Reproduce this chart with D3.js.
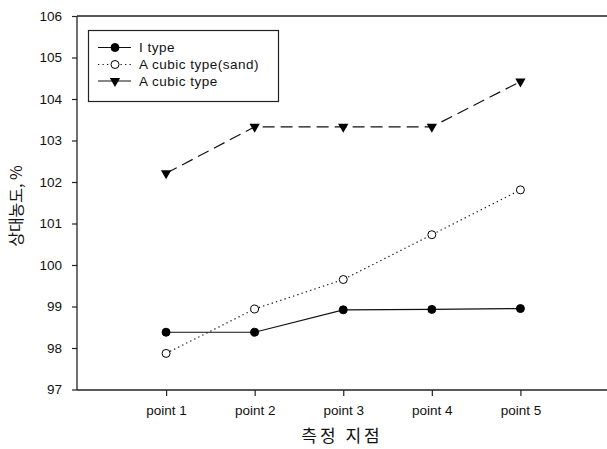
<!DOCTYPE html>
<html><head><meta charset="utf-8">
<script src="https://cdn.jsdelivr.net/npm/d3@7"></script>
<style>body{margin:0;background:#fff}</style>
</head><body>
<svg id="c" width="607" height="449"></svg>
<script>
const categories = ["point 1","point 2","point 3","point 4","point 5"];
const iType = [98.38, 98.38, 98.92, 98.93, 98.95];
const sandType = [97.87, 98.94, 99.65, 100.73, 101.81];
const cubicType = [102.21, 103.33, 103.33, 103.33, 104.42];
const yTicks = [97,98,99,100,101,102,103,104,105,106];
const seriesNames = ["I type","A cubic type(sand)","A cubic type"];

const svg = d3.select("#c");
const x = d3.scaleLinear().domain([0,6]).range([77.5,609]);
const y = d3.scaleLinear().domain([97,106]).range([389.5,16]);
const font = "'Liberation Sans', Arial, sans-serif";
const ink = "#222";

// frame
svg.append("line").attr("x1",77).attr("x2",607).attr("y1",16).attr("y2",16).attr("stroke",ink).attr("stroke-width",1.3);

const yAxis = svg.append("g").attr("transform","translate(77,0)")
  .call(d3.axisLeft(y).tickValues(yTicks).tickSize(5).tickPadding(10).tickFormat(d3.format("d")));
yAxis.select(".domain").attr("stroke",ink).attr("stroke-width",1.3).attr("d","M0,16V390");
yAxis.selectAll(".tick line").attr("stroke",ink).attr("stroke-width",1.2);
yAxis.selectAll("text").attr("font-family",font).attr("font-size",13.5).attr("fill","#111");

const xAxis = svg.append("g").attr("transform","translate(0,390)")
  .call(d3.axisBottom(x).tickValues([1,2,3,4,5]).tickSize(6).tickPadding(9).tickFormat(d=>categories[d-1]));
xAxis.select(".domain").attr("stroke",ink).attr("stroke-width",1.3).attr("d","M77,0H607");
xAxis.selectAll(".tick line").attr("stroke",ink).attr("stroke-width",1.2);
xAxis.selectAll("text").attr("font-family",font).attr("font-size",13.5).attr("fill","#111");

// titles
svg.append("text").attr("x",342).attr("y",442).attr("text-anchor","middle")
  .attr("font-family","'Noto Sans CJK KR', sans-serif").attr("font-size",17).attr("letter-spacing",3).attr("fill","#111")
  .text("측정 지점");
svg.append("text").attr("transform","translate(22,206) rotate(-90)").attr("text-anchor","middle")
  .attr("font-family","'Noto Sans CJK KR', sans-serif").attr("font-size",16).attr("fill","#111")
  .text("상대농도, %");

const line = d3.line().x((d,i)=>x(i+1)).y(d=>y(d));
const styles = [
  {data:iType, dash:null, sym:"circle", fill:"#000"},
  {data:sandType, dash:"1.3,3.2", sym:"circle", fill:"#fff"},
  {data:cubicType, dash:"12,6", sym:"tri", fill:"#000"}
];
const circ = d3.symbol().type(d3.symbolCircle).size(52);
const tri = d3.symbol().type(d3.symbolTriangle).size(46);

function marker(g, s, cx, cy){
  if(s.sym==="circle"){
    g.append("circle").attr("cx",cx).attr("cy",cy).attr("r",4).attr("fill",s.fill).attr("stroke","#000").attr("stroke-width",1);
  } else {
    g.append("path").attr("d",tri()).attr("transform",`translate(${cx},${cy}) rotate(180)`).attr("fill","#000");
  }
}

styles.forEach(s=>{
  const g = svg.append("g");
  g.append("path").attr("d",line(s.data)).attr("fill","none").attr("stroke","#111").attr("stroke-width",1.2)
    .attr("stroke-dasharray",s.dash);
  s.data.forEach((v,i)=>marker(g,s,x(i+1),y(v)));
});

// legend
const lg = svg.append("g");
lg.append("rect").attr("x",88.5).attr("y",30.5).attr("width",190).attr("height",71).attr("fill","#fff").attr("stroke",ink).attr("stroke-width",1.2);
const rows = [47.5,64.5,81];
styles.forEach((s,i)=>{
  lg.append("line").attr("x1",98).attr("x2",131).attr("y1",rows[i]).attr("y2",rows[i])
    .attr("stroke","#111").attr("stroke-width",1.2).attr("stroke-dasharray", i===1?"1.3,3.2":null);
  marker(lg,s,115,rows[i]);
  lg.append("text").attr("x",139).attr("y",rows[i]+4.8).attr("font-family",font).attr("font-size",13.5)
    .attr("letter-spacing",0.5).attr("fill","#111").text(seriesNames[i]);
});
</script>
</body></html>
